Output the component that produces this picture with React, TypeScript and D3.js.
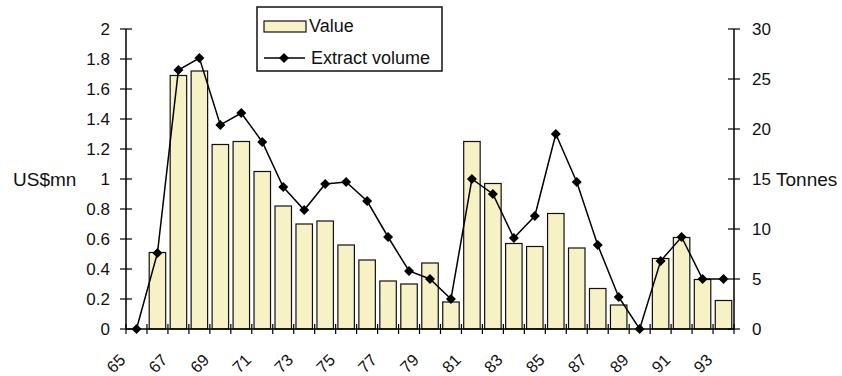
import React from "react";
import * as d3 from "d3";

// Year labels (19xx) and the two series plotted against them
const YEARS = [65, 66, 67, 68, 69, 70, 71, 72, 73, 74, 75, 76, 77, 78, 79, 80, 81, 82, 83, 84, 85, 86, 87, 88, 89, 90, 91, 92, 93];
const VALUE_USD_MN = [0, 0.51, 1.69, 1.72, 1.23, 1.25, 1.05, 0.82, 0.70, 0.72, 0.56, 0.46, 0.32, 0.30, 0.44, 0.18, 1.25, 0.97, 0.57, 0.55, 0.77, 0.54, 0.27, 0.16, 0, 0.47, 0.61, 0.33, 0.19];
const EXTRACT_TONNES = [0, 7.6, 25.9, 27.1, 20.4, 21.6, 18.7, 14.2, 11.9, 14.5, 14.7, 12.8, 9.2, 5.8, 5.0, 3.0, 15.0, 13.5, 9.1, 11.3, 19.5, 14.7, 8.4, 3.2, 0, 6.8, 9.2, 5.0, 5.0];

const LEFT_TICKS = [0, 0.2, 0.4, 0.6, 0.8, 1, 1.2, 1.4, 1.6, 1.8, 2];
const RIGHT_TICKS = [0, 5, 10, 15, 20, 25, 30];
const LABELLED_YEARS = [65, 67, 69, 71, 73, 75, 77, 79, 81, 83, 85, 87, 89, 91, 93];

const W = 842;
const H = 376;
const X0 = 126;
const X1 = 734;
const Y_TOP = 29;
const Y_BOT = 329;
const FONT = "'Liberation Sans', Arial, Helvetica, sans-serif";
const BAR_FILL = "#F7F2C6";

export default function App() {
  const pad = 0.214;
  const x = d3.scaleBand<number>().domain(YEARS).range([X0, X1]).paddingInner(pad).paddingOuter(pad / 2);
  const step = x.step();
  const yL = d3.scaleLinear().domain([0, 2]).range([Y_BOT, Y_TOP]);
  const yR = d3.scaleLinear().domain([0, 30]).range([Y_BOT, Y_TOP]);
  const fmt = d3.format("~g");
  const cx = (yr: number) => (x(yr) as number) + x.bandwidth() / 2;

  const linePath = d3
    .line<number>()
    .x((_, i) => cx(YEARS[i]))
    .y((d) => yR(d))(EXTRACT_TONNES) as string;

  const diamond = (px: number, py: number, r = 5) =>
    `M${px},${py - r}L${px + r},${py}L${px},${py + r}L${px - r},${py}Z`;

  const boundaries = d3.range(YEARS.length + 1).map((k) => X0 + k * step);

  return (
    <div style={{ position: "absolute", left: 0, top: 0 }}>
      <svg width={W} height={H} style={{ display: "block", background: "#fff" }} fontFamily={FONT}>
        {/* bars: value in US$ million */}
        {YEARS.map((yr, i) =>
          VALUE_USD_MN[i] > 0 ? (
            <rect
              key={"b" + yr}
              x={x(yr)}
              y={yL(VALUE_USD_MN[i])}
              width={x.bandwidth()}
              height={Y_BOT - yL(VALUE_USD_MN[i])}
              fill={BAR_FILL}
              stroke="#111"
              strokeWidth={1.2}
            />
          ) : null
        )}

        {/* x axis with category-boundary ticks */}
        <line x1={X0} x2={X1} y1={Y_BOT} y2={Y_BOT} stroke="#000" strokeWidth={1.5} />
        {boundaries.map((bx, k) => (
          <line key={"xt" + k} x1={bx} x2={bx} y1={Y_BOT - 5} y2={Y_BOT + 5} stroke="#000" strokeWidth={1.2} />
        ))}
        {LABELLED_YEARS.map((yr) => {
          const ax = cx(yr) - 10;
          const ay = 361;
          return (
            <text
              key={"xl" + yr}
              x={ax}
              y={ay}
              textAnchor="end"
              fontSize={16.5}
              fill="#111"
              transform={`rotate(-45 ${ax} ${ay})`}
            >
              {yr}
            </text>
          );
        })}

        {/* left axis */}
        <line x1={X0} x2={X0} y1={Y_TOP} y2={Y_BOT} stroke="#000" strokeWidth={1.5} />
        {LEFT_TICKS.map((t) => (
          <g key={"lt" + t}>
            <line x1={X0 - 6} x2={X0 + 6} y1={yL(t)} y2={yL(t)} stroke="#000" strokeWidth={1.2} />
            <text x={110} y={yL(t)} dy="0.36em" textAnchor="end" fontSize={17} fill="#111">
              {fmt(t)}
            </text>
          </g>
        ))}
        <text x={13} y={yL(1)} dy="0.36em" fontSize={19} fill="#111">
          US$mn
        </text>

        {/* right axis */}
        <line x1={X1} x2={X1} y1={Y_TOP} y2={Y_BOT} stroke="#000" strokeWidth={1.5} />
        {RIGHT_TICKS.map((t) => (
          <g key={"rt" + t}>
            <line x1={X1 - 6} x2={X1 + 6} y1={yR(t)} y2={yR(t)} stroke="#000" strokeWidth={1.2} />
            <text x={752} y={yR(t)} dy="0.36em" textAnchor="start" fontSize={17} fill="#111">
              {t}
            </text>
          </g>
        ))}
        <text x={776} y={yR(15)} dy="0.36em" fontSize={19} fill="#111">
          Tonnes
        </text>

        {/* extract volume line */}
        <path d={linePath} fill="none" stroke="#000" strokeWidth={1.5} />
        {EXTRACT_TONNES.map((v, i) => (
          <path key={"m" + i} d={diamond(cx(YEARS[i]), yR(v))} fill="#000" />
        ))}

        {/* legend */}
        <rect x={257} y={7} width={185} height={64} fill="#fff" stroke="#111" strokeWidth={1.5} />
        <rect x={264} y={21} width={42} height={11} fill={BAR_FILL} stroke="#111" strokeWidth={1.2} />
        <text x={309} y={32} fontSize={18} fill="#111">
          Value
        </text>
        <line x1={264} x2={305} y1={58} y2={58} stroke="#000" strokeWidth={1.5} />
        <path d={diamond(284, 58)} fill="#000" />
        <text x={311} y={64} fontSize={18} fill="#111">
          Extract volume
        </text>
      </svg>
    </div>
  );
}
